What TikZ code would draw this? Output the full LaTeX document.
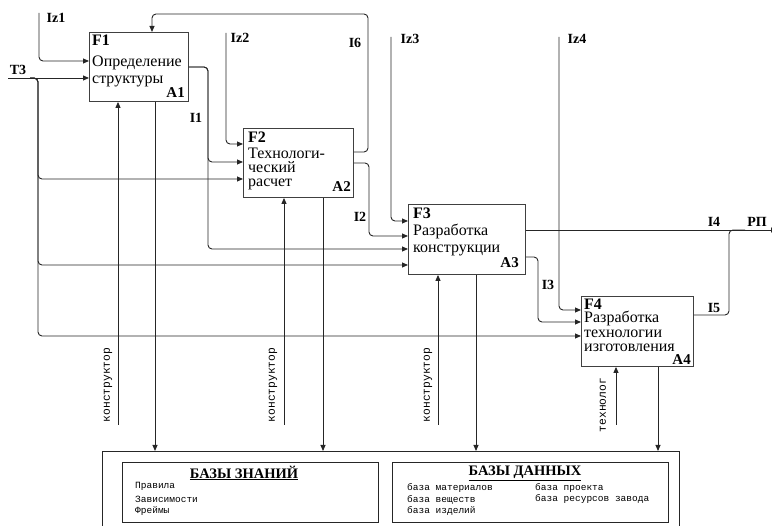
\documentclass[tikz,border=0pt]{standalone}
\usepackage{fontspec}
\setmainfont{Liberation Serif}
\newfontfamily\monofont{Liberation Mono}
\usetikzlibrary{arrows.meta,calc}

\begin{document}
\begin{tikzpicture}[x=1pt,y=-1pt,
  conn/.style={draw=black!85, line width=0.9pt},
  arr/.style={conn, -{Triangle[length=6pt,width=5pt]}},
  rc/.style={rounded corners=4pt},
  fbox/.style={draw=black!75, line width=0.9pt, anchor=north west, inner sep=0pt},
  sbox/.style={draw=black!85, line width=0.8pt, anchor=north west, inner sep=0pt},
  lbl/.style={font=\fontsize{14}{14}\selectfont\bfseries, inner sep=0pt},
  btxt/.style={font=\fontsize{16}{14}\selectfont, anchor=north west, align=left, inner sep=0pt},
  bnum/.style={font=\fontsize{15}{15}\selectfont\bfseries, inner sep=0pt},
  role/.style={font=\monofont\fontsize{11.3}{11.3}\selectfont, rotate=90, inner sep=0pt},
  item/.style={font=\monofont\fontsize{9.5}{9.5}\selectfont, anchor=west, inner sep=0pt},
  head/.style={font=\fontsize{14.5}{14.5}\selectfont\bfseries, inner sep=0pt}]
\useasboundingbox (0,0) rectangle (772,526);

% function blocks
\node[fbox, minimum width=99pt,  minimum height=69pt] (A1) at (89,32)  {};
\node[fbox, minimum width=110pt, minimum height=69pt] (A2) at (243,128) {};
\node[fbox, minimum width=117pt, minimum height=70pt] (A3) at (408,204) {};
\node[fbox, minimum width=112pt, minimum height=70pt] (A4) at (581,296) {};

% block texts: number, name, node label
\node[btxt] (t1) at (92,34.5)  {\textbf{F1}\\[7pt]Определение\\[3pt]структуры};
\node[bnum, anchor=east] (a1) at (185,93) {A1};

\node[btxt] (t2) at (248,131.5) {\textbf{F2}\\[2pt]Технологи-\\ческий\\расчет};
\node[bnum, anchor=east] (a2) at (351,187) {A2};

\node[btxt] (t3) at (413,207.5) {\textbf{F3}\\[3pt]Разработка\\[3pt]конструкции};
\node[bnum, anchor=east] (a3) at (519,263) {A3};

\node[btxt] (t4) at (584,298.5) {\textbf{F4}\\[-1pt]Разработка\\[1pt]технологии\\изготовления};
\node[bnum, anchor=east] (a4) at (691,360) {A4};

% storage frame and its two panels
\node[anchor=north west, minimum width=577pt, minimum height=75pt, inner sep=0pt] (store) at (102,451) {};
\draw[conn] (store.south west) -- (store.north west) -- (store.north east) -- (store.south east);
\node[sbox, minimum width=256pt, minimum height=60pt] (kb) at (122,462) {};
\node[sbox, minimum width=276pt, minimum height=60pt] (db) at (392,462) {};
\node[head] (kbh) at (244,473) {\underline{БАЗЫ ЗНАНИЙ}};
\node[head] (dbh) at (525,473) {\underline{БАЗЫ ДАННЫХ}};
\node[item] (kb1) at (135,486) {Правила};
\node[item] (kb2) at (135,499) {Зависимости};
\node[item] (kb3) at (135,511) {Фреймы};
\node[item] (db1) at (407,488) {база материалов};
\node[item] (db2) at (407,500) {база веществ};
\node[item] (db3) at (407,511) {база изделий};
\node[item] (db4) at (535,488) {база проекта};
\node[item] (db5) at (535,499) {база ресурсов завода};

% ports on the block edges
\coordinate (A1i1) at ($(A1.north west)+(0,29)$);
\coordinate (A1i2) at ($(A1.north west)+(0,46)$);
\coordinate (A1o1) at ($(A1.north east)+(0,35)$);
\coordinate (A1t)  at ($(A1.north west)+(63,0)$);
\coordinate (A2i1) at ($(A2.north west)+(0,16)$);
\coordinate (A2i2) at ($(A2.north west)+(0,34)$);
\coordinate (A2i3) at ($(A2.north west)+(0,51)$);
\coordinate (A2o1) at ($(A2.north east)+(0,24)$);
\coordinate (A2o2) at ($(A2.north east)+(0,35)$);
\coordinate (A3i1) at ($(A3.north west)+(0,17)$);
\coordinate (A3i2) at ($(A3.north west)+(0,32)$);
\coordinate (A3i3) at ($(A3.north west)+(0,45)$);
\coordinate (A3i4) at ($(A3.north west)+(0,61)$);
\coordinate (A3o1) at ($(A3.north east)+(0,26)$);
\coordinate (A3o2) at ($(A3.north east)+(0,53)$);
\coordinate (A4i1) at ($(A4.north west)+(0,14)$);
\coordinate (A4i2) at ($(A4.north west)+(0,26)$);
\coordinate (A4i3) at ($(A4.north west)+(0,40)$);
\coordinate (A4o1) at ($(A4.north east)+(0,19)$);

% mechanism ports and output ports on the block bottoms
\coordinate (A1m) at ($(A1.south west)+(29,0)$);
\coordinate (A2m) at ($(A2.south west)+(41,0)$);
\coordinate (A3m) at ($(A3.south west)+(30,0)$);
\coordinate (A4m) at ($(A4.south west)+(35,0)$);
\coordinate (A1d) at ($(A1.south west)+(66,0)$);
\coordinate (A2d) at ($(A2.south west)+(80,0)$);
\coordinate (A3d) at ($(A3.south west)+(68,0)$);
\coordinate (A4d) at ($(A4.south west)+(77,0)$);

% free ends and bend points
\coordinate (iz1) at (39,13);
\coordinate (iz2) at (226,33);
\coordinate (iz3) at (391,37);
\coordinate (iz4) at (559,37);
\coordinate (t3)  at (8,78);
\coordinate (t3b) at (30,78);
\coordinate (t3x) at (38,120);
\coordinate (b1)  at (208,110);
\coordinate (b6)  at (368,14);
\coordinate (b2)  at (369,200);
\coordinate (b3)  at (538,290);
\coordinate (b5)  at (729,270);
\coordinate (rp)  at (777,230);
\coordinate (j5)  at (745,230);
\coordinate (m1)  at (118,425);
\coordinate (m2)  at (284,425);
\coordinate (m3)  at (438,425);
\coordinate (m4)  at (616,425);

% inputs
\draw[arr, rc] (iz1) |- (A1i1);
\draw[arr] (t3) -- (A1i2);
\draw[arr, rc] (t3b) -| (t3x) |- (A2i3);
\draw[arr, rc] (t3b) -| (t3x) |- (A3i4);
\draw[arr, rc] (t3b) -| (t3x) |- (A4i3);
\draw[arr, rc] (iz2) |- (A2i1);
\draw[arr, rc] (iz3) |- (A3i1);
\draw[arr, rc] (iz4) |- (A4i1);

% flows between blocks
\draw[arr, rc] (A1o1) -| (b1) |- (A2i2);
\draw[arr, rc] (A1o1) -| (b1) |- (A3i3);
\draw[arr, rc] (A2o1) -| (b6) -| (A1t);
\draw[arr, rc] (A2o2) -| (b2) |- (A3i2);
\draw[arr, rc] (A3o2) -| (b3) |- (A4i2);
\draw[arr] (A3o1) -- (rp);
\draw[conn, rc] (A4o1) -| (b5) |- (j5);

% mechanisms
\draw[arr] (m1) -- (A1m);
\draw[arr] (m2) -- (A2m);
\draw[arr] (m3) -- (A3m);
\draw[arr] (m4) -- (A4m);

% outputs to the storage
\draw[arr] (A1d) -- (A1d |- store.north);
\draw[arr] (A2d) -- (A2d |- store.north);
\draw[arr] (A3d) -- (A3d |- store.north);
\draw[arr] (A4d) -- (A4d |- store.north);

% arrow labels
\node[lbl] (liz1) at (56,18)  {Iz1};
\node[lbl] (lt3)  at (18,70)  {T3};
\node[lbl] (liz2) at (240,38) {Iz2};
\node[lbl] (li6)  at (355,43) {I6};
\node[lbl] (liz3) at (410,39) {Iz3};
\node[lbl] (liz4) at (577,39) {Iz4};
\node[lbl] (li1)  at (196,118) {I1};
\node[lbl] (li2)  at (360,217) {I2};
\node[lbl] (li3)  at (548,285) {I3};
\node[lbl] (li4)  at (714,222) {I4};
\node[lbl] (lrp)  at (757,222) {РП};
\node[lbl] (li5)  at (714,308) {I5};

% roles
\node[role] (r1) at (108,385) {конструктор};
\node[role] (r2) at (273,385) {конструктор};
\node[role] (r3) at (428,385) {конструктор};
\node[role] (r4) at (603,405) {технолог};
\end{tikzpicture}
\end{document}
